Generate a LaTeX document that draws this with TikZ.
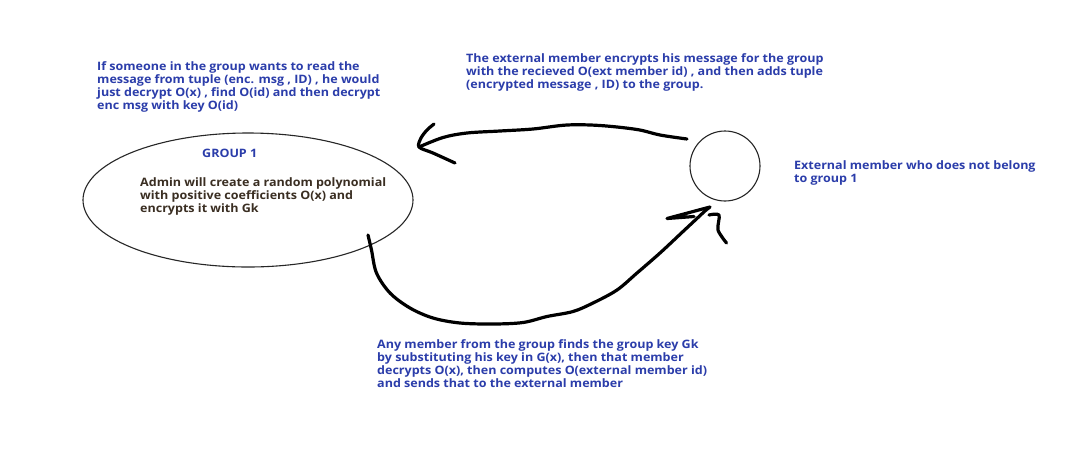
\documentclass[tikz,border=0pt]{standalone}
\usepackage{fontspec}
\setmainfont[FakeStretch=1.08]{Open Sans}
\usetikzlibrary{shapes.geometric}
\definecolor{noteblue}{HTML}{2B3DAA}
\definecolor{darktext}{HTML}{3A2E22}
\tikzset{
  note/.style={anchor=north west, inner sep=0pt, align=left, text=noteblue,
    font=\fontsize{11.6}{13}\selectfont\bfseries},
  pen/.style={line width=3.2pt, line cap=round, line join=round, black},
}
\begin{document}
\begin{tikzpicture}[x=1pt,y=-1pt]
\useasboundingbox (0,0) rectangle (1073,459);
\fill[white] (0,0) rectangle (1073,459);
% shapes
\node[draw=black!85, line width=1.1pt, ellipse, minimum width=330pt, minimum height=134pt, inner sep=0pt] (group) at (248,200) {};
\node[draw=black!85, line width=1.1pt, circle, minimum size=70pt, inner sep=0pt] (ext) at (725,166) {};
% texts
\node[note] (readnote) at (97,61) {If someone in the group wants to read the\\message from tuple (enc. msg , ID) , he would\\just decrypt O(x) , find O(id) and then decrypt\\enc msg with key O(id)};
\node[note] (extnote) at (466,53) {The external member encrypts his message for the group\\with the recieved O(ext member id) , and then adds tuple\\(encrypted message , ID) to the group.};
\node[note] (grouptitle) at (202,149) {GROUP 1};
\node[note, text=darktext] (admin) at (140,177) {Admin will create a random polynomial\\with positive coefficients O(x) and\\encrypts it with Gk};
\node[note] (extlabel) at (794,160) {External member who does not belong\\to group 1};
\node[note] (membernote) at (377,339) {Any member from the group finds the group key Gk\\by substituting his key in G(x), then that member\\decrypts O(x), then computes O(external member id)\\and sends that to the external member};
% connector end points
\coordinate (topstart) at (687,139);
\coordinate (toptip) at (419,147);
\coordinate (botstart) at (368,235);
\coordinate (bottip) at (706,210);
% top arrow: external member -> group
\draw[pen] plot[smooth, tension=0.55] coordinates {(topstart) (660,135) (637,129.5) (600,125.5) (567,125) (533,129) (500,131) (467,133) (443,137.5) (toptip)};
\draw[pen] plot[smooth, tension=0.5] coordinates {(434,124) (427,130) (421,138) (toptip) (433,153) (455,163)};
% bottom arrow: group -> external member
\draw[pen] plot[smooth, tension=0.55] coordinates {(botstart) (371.5,250) (376.5,273) (390,293) (410,308) (433,318) (460,323) (493,324) (523,322.5) (547,316.5) (573,311.5) (593,303) (617,290) (637,273) (660,253) (683,231.5) (bottip)};
\draw[pen] (bottip) -- (710,207) -- (667,218.5) -- (694,216.5);
\draw[pen] plot[smooth, tension=0.5] coordinates {(709,215) (719,215) (718,230) (726.5,243)};
\end{tikzpicture}
\end{document}
